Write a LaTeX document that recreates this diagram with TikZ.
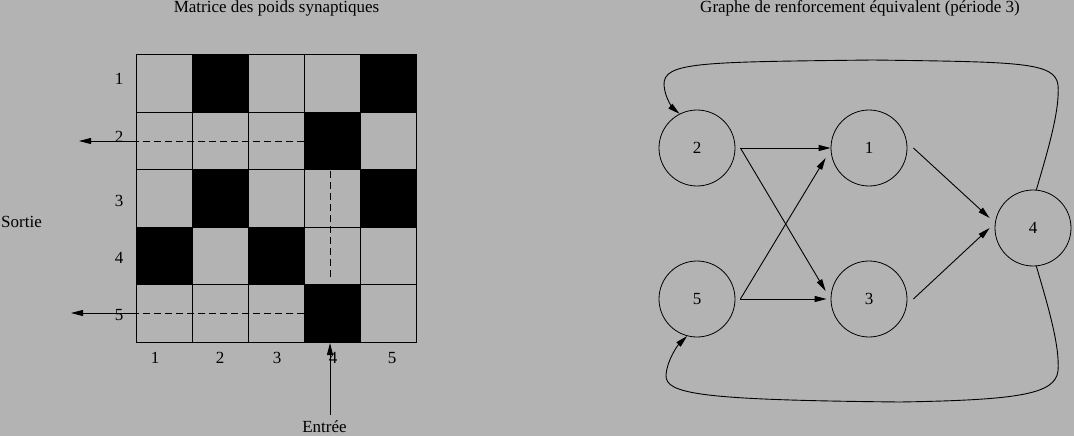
\documentclass[tikz,border=0pt]{standalone}
\usepackage{fontspec}
\setmainfont{Liberation Serif}
\newfontfamily\figfont{Liberation Serif}
\usetikzlibrary{arrows.meta}
\definecolor{bg}{RGB}{179,179,179}
\begin{document}
\begin{tikzpicture}[x=1pt,y=-1pt,
  every node/.style={font=\figfont\fontsize{17}{20}\selectfont, inner sep=0pt},
  gline/.style={line width=1pt},
  conn/.style={line width=0.9pt,-{Triangle[length=12pt,width=6pt]}},
  dashline/.style={line width=0.9pt,dash pattern=on 7pt off 4pt},
  neuron/.style={circle,draw,line width=0.8pt,minimum size=76pt}]
\fill[bg] (0,0) rectangle (1074,436);
\useasboundingbox (0,0) rectangle (1074,436);
% titles
\node[anchor=base] (t1) at (276.5,12.5) {Matrice des poids synaptiques};
\node[anchor=base] (t2) at (860,12.5) {Graphe de renforcement équivalent (période 3)};
\node[anchor=base west] (sortie) at (1,227) {Sortie};
\node[anchor=base] (entree) at (324.5,432) {Entrée};
% matrix
\foreach \c/\r in {2/1,5/1,4/2,2/3,5/3,1/4,3/4,4/5}
  \fill ({136+56.1*(\c-1)},{55+57.4*(\r-1)}) rectangle ++(56.1,57.4);
\foreach \i in {0,...,5} {
  \draw[gline] ({136+56.1*\i},55) -- ({136+56.1*\i},342);
  \draw[gline] (136,{55+57.4*\i}) -- (416.5,{55+57.4*\i});
}
\foreach \r/\y in {1/79,2/137,3/201,4/258,5/315}
  \node (r\r) at (119,\y) {\r};
\foreach \c/\x in {1/155,2/220,3/277,4/333,5/392}
  \node (c\c) at (\x,358) {\c};
% read-out lines
\coordinate (a2s) at (304.3,141);
\coordinate (a2m) at (136.3,141);
\coordinate (a2e) at (79,141);
\coordinate (a5s) at (304.3,313);
\coordinate (a5m) at (136.3,313);
\coordinate (a5e) at (71,313);
\draw[dashline] (a2s) -- (a2m);
\draw[conn] (a2m) -- (a2e);
\draw[dashline] (a5s) -- (a5m);
\draw[conn] (a5m) -- (a5e);
\coordinate (vt) at (330,171);
\coordinate (vb) at (330,280);
\draw[dashline] (vt) -- (vb);
\coordinate (inb) at (330,415);
\coordinate (int) at (330,343);
\draw[conn] (inb) -- (int);
% graph
\node[neuron] (n2) at (697,148) {2};
\node[neuron] (n1) at (869,148) {1};
\node[neuron] (n5) at (697,299) {5};
\node[neuron] (n3) at (869,299) {3};
\node[neuron] (n4) at (1033,228) {4};
\draw[conn] ([xshift=5pt]n2.east) -- (n1.west);
\draw[conn] ([xshift=5pt]n2.east) -- ([shift={(-5,-8)}]n3.west);
\draw[conn] ([xshift=5pt]n5.east) -- ([shift={(-5,10)}]n1.west);
\draw[conn] ([xshift=5pt]n5.east) -- ([xshift=-4pt]n3.west);
\draw[conn] ([xshift=6pt]n1.east) -- ([shift={(-5,-10)}]n4.west);
\draw[conn] ([xshift=6pt]n3.east) -- ([xshift=-5pt]n4.west);
\draw[conn] (n4.85) .. controls (1048,150) and (1060,110) .. (1058,85)
  .. controls (1055,62) and (1020,62) .. (873,60)
  .. controls (700,62) and (663,62) .. (664,85)
  .. controls (665,100) and (675,110) .. (n2.117);
\draw[conn] (n4.275) .. controls (1048,306) and (1060,346) .. (1058,371)
  .. controls (1055,394) and (1020,400) .. (900,402)
  .. controls (700,400) and (665,394) .. (666,375)
  .. controls (667,360) and (678,345) .. (n5.255);
\end{tikzpicture}
\end{document}
